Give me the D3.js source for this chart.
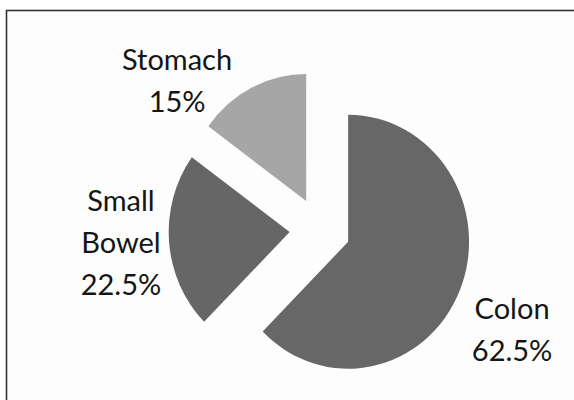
<!DOCTYPE html>
<html>
<head>
<meta charset="utf-8">
<script src="https://cdn.jsdelivr.net/npm/d3@7"></script>
<style>
  body { margin: 0; background: #ffffff; }
  svg { display: block; }
</style>
</head>
<body>
<svg></svg>
<script>
// chart data
var categories = ["Colon", "Small Bowel", "Stomach"]
var values = [62.5, 22.5, 15]
var labelLines = [["Colon"], ["Small", "Bowel"], ["Stomach"]]

var screen = {width: 574, height: 400}
var center = {x: 320, y: 229.5}
var radius = 127
var squash = 0.952   // picture is a bit narrower than tall
var explode = 32
var labelRadius = 215
var lineHeight = 42
var colors = {"Colon": "#676767", "Small Bowel": "#666666", "Stomach": "#a6a6a6"}
// labels were pushed around by the original tool to avoid the frame
var labelNudge = {"Colon": [3, 18], "Small Bowel": [5, -3], "Stomach": [-50, 43]}

var svg = d3.select("svg")
  .attr("width", screen.width)
  .attr("height", screen.height)

// frame
svg.append("rect")
  .attr("x", 6.5).attr("y", 10.5)
  .attr("width", 600).attr("height", 420)
  .attr("fill", "#fdfdfd")
  .attr("stroke", "#333333")
  .attr("stroke-width", 1.6)

var total = d3.sum(values)
var table = categories.map(function(c, i) {
  return {name: c, value: values[i], lines: labelLines[i]}
})

var pie = d3.pie().sort(null).value(function(d) { return d.value })
var arc = d3.arc().innerRadius(0).outerRadius(radius)

var slices = pie(table)

var g = svg.append("g")
  .attr("transform", "translate(" + center.x + "," + center.y + ") scale(" + squash + ",1)")

g.selectAll("path")
  .data(slices)
  .enter()
  .append("path")
  .attr("d", arc)
  .attr("fill", function(d) { return colors[d.data.name] })
  .attr("transform", function(d) {
    var mid = (d.startAngle + d.endAngle) / 2
    return "translate(" + (explode * Math.sin(mid)) + "," + (-explode * Math.cos(mid)) + ")"
  })

var pct = function(v) { return (+(v / total * 100).toFixed(1)) + "%" }

var labels = svg.selectAll("text.label")
  .data(slices)
  .enter()
  .append("text")
  .attr("class", "label")
  .attr("text-anchor", "middle")
  .attr("font-family", "Lato, 'Open Sans', sans-serif")
  .attr("font-size", 29)
  .attr("fill", "#151515")

labels.each(function(d) {
  var mid = (d.startAngle + d.endAngle) / 2
  var nudge = labelNudge[d.data.name]
  var x = center.x + labelRadius * Math.sin(mid) * squash + nudge[0]
  var y = center.y - labelRadius * Math.cos(mid) + nudge[1]
  var lines = d.data.lines.concat([pct(d.data.value)])
  var first = y - (lines.length - 1) * lineHeight / 2 + 10
  d3.select(this).selectAll("tspan")
    .data(lines)
    .enter()
    .append("tspan")
    .attr("x", x)
    .attr("y", function(t, i) { return first + i * lineHeight })
    .text(function(t) { return t })
})
</script>
</body>
</html>
